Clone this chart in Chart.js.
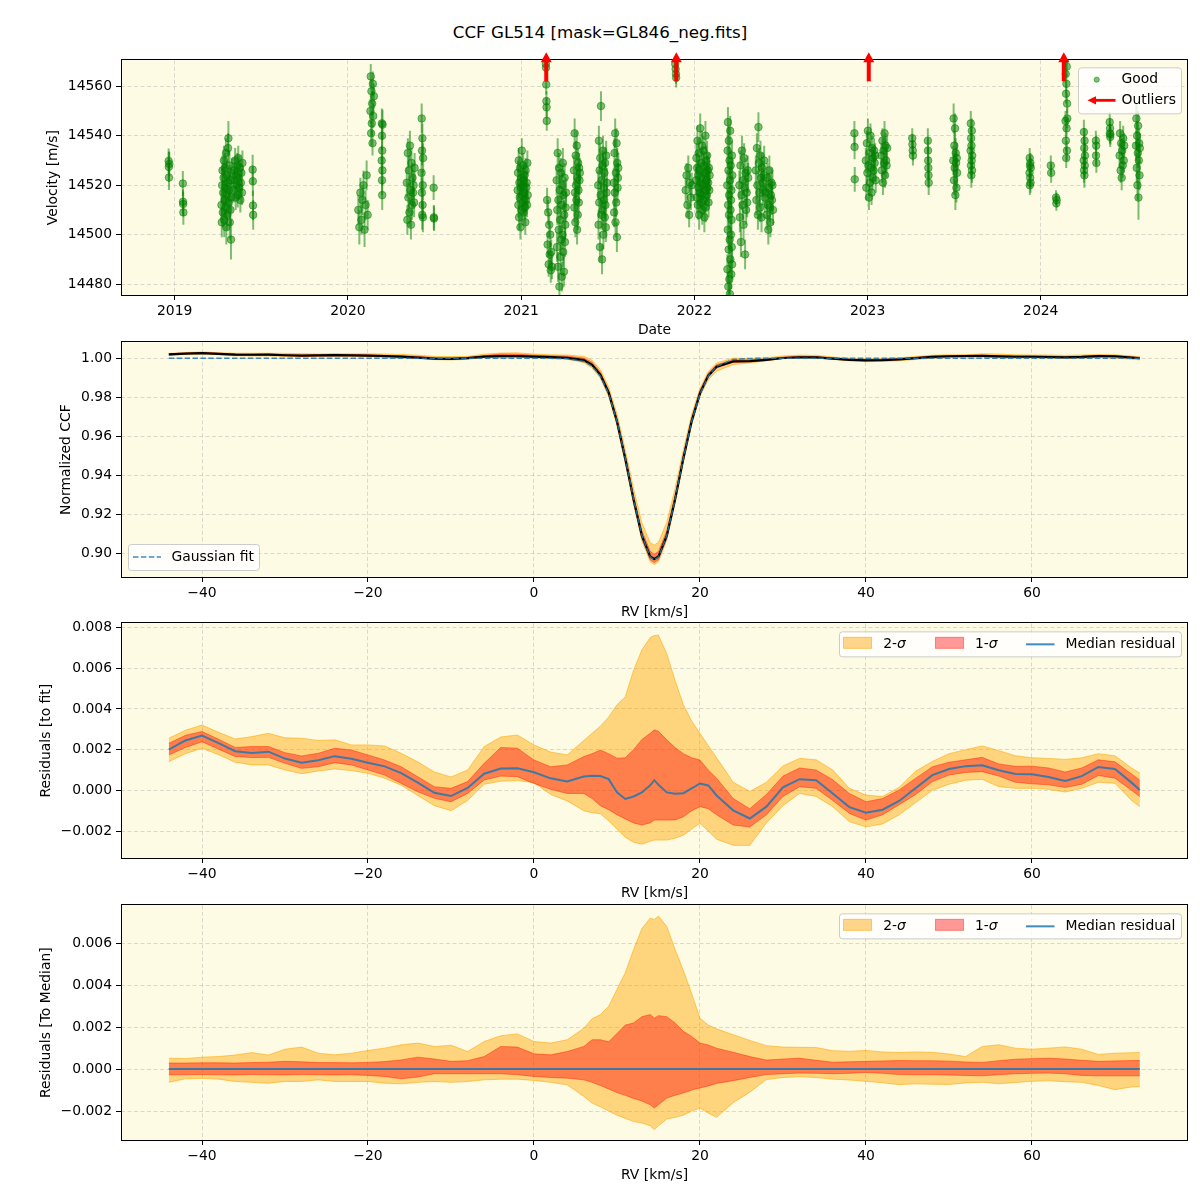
<!DOCTYPE html>
<html>
<head>
<meta charset="utf-8">
<title>CCF GL514</title>
<script src="https://cdn.jsdelivr.net/npm/chart.js@4.4.1/dist/chart.umd.min.js"></script>
<style>
html,body{margin:0;padding:0;background:#fff}
body{width:1200px;height:1200px;position:relative;overflow:hidden}
#title{position:absolute;left:0;top:22px;width:1200px;text-align:center;font-family:"DejaVu Sans",sans-serif;font-size:16.7px;line-height:20px;color:#000}
canvas{position:absolute;left:0}
</style>
</head>
<body>
<div id="title">CCF GL514 [mask=GL846_neg.fits]</div>
<canvas id="c1" width="1200" height="292" style="top:48px"></canvas>
<canvas id="c2" width="1200" height="292" style="top:330px"></canvas>
<canvas id="c3" width="1200" height="292" style="top:611px"></canvas>
<canvas id="c4" width="1200" height="292" style="top:893px"></canvas>
<script>
// ---------------- Panel 1: velocities ----------------
const goodT = [
2018.965,2018.966,2018.967,2018.969,
2019.047,2019.048,2019.049,2019.050,
2019.270,2019.272,2019.274,2019.276,2019.278,2019.280,2019.282,2019.284,2019.286,2019.288,2019.290,2019.292,2019.294,2019.296,2019.298,2019.300,2019.302,2019.304,2019.306,2019.308,2019.310,2019.312,2019.314,2019.316,2019.318,2019.320,2019.322,2019.325,2019.327,2019.330,
2019.340,2019.343,2019.346,2019.349,2019.352,2019.355,2019.358,2019.361,2019.364,2019.367,2019.370,2019.373,2019.376,2019.379,2019.382,2019.385,2019.388,2019.391,
2019.450,2019.451,2019.452,2019.453,
2020.060,2020.066,2020.072,2020.078,2020.084,2020.090,2020.096,2020.102,2020.108,2020.114,
2020.130,2020.132,2020.134,2020.136,2020.138,2020.140,2020.142,2020.144,2020.146,2020.150,
2020.195,2020.196,2020.197,2020.197,2020.198,2020.198,2020.199,2020.200,
2020.340,2020.343,2020.346,2020.349,2020.352,2020.355,2020.358,2020.361,2020.364,2020.367,2020.370,2020.373,2020.376,2020.379,2020.382,2020.385,
2020.425,2020.426,2020.427,2020.428,2020.429,2020.430,2020.431,2020.432,2020.433,2020.434,
2020.495,2020.496,2020.497,
2020.980,2020.982,2020.984,2020.986,2020.988,2020.990,2020.992,2020.994,2020.996,2020.998,2021.000,2021.002,2021.004,2021.006,2021.008,2021.010,2021.012,2021.014,2021.016,2021.018,2021.020,2021.022,2021.024,2021.026,2021.028,2021.030,2021.032,2021.034,2021.036,2021.038,
2021.143,2021.144,2021.145,2021.146,2021.147,2021.148,
2021.150,2021.153,2021.156,2021.159,2021.162,2021.165,2021.168,2021.171,2021.174,2021.178,
2021.205,2021.207,2021.209,2021.211,2021.213,2021.215,2021.217,2021.219,2021.221,2021.223,2021.225,2021.227,2021.229,2021.231,2021.233,2021.235,2021.237,2021.239,2021.241,2021.243,2021.245,2021.247,2021.249,2021.251,2021.253,2021.255,2021.257,2021.259,
2021.305,2021.307,2021.309,2021.311,2021.313,2021.315,2021.317,2021.319,2021.321,2021.323,2021.325,2021.327,2021.329,2021.331,2021.333,2021.335,2021.337,2021.339,
2021.445,2021.447,2021.449,2021.451,2021.453,2021.455,2021.457,2021.459,2021.461,2021.463,2021.465,2021.467,2021.469,2021.471,2021.473,2021.475,2021.477,2021.479,2021.481,2021.483,2021.485,2021.487,2021.489,2021.491,2021.493,2021.495,
2021.535,2021.537,2021.539,2021.541,2021.543,2021.545,2021.547,2021.549,2021.551,2021.553,2021.555,2021.557,2021.559,2021.561,
2021.890,2021.892,2021.894,2021.895,
2021.950,2021.955,2021.960,2021.965,2021.970,2021.975,2021.980,2021.985,
2022.010,2022.012,2022.014,2022.016,2022.018,2022.020,2022.022,2022.024,2022.026,2022.028,2022.030,2022.032,2022.034,2022.036,2022.038,2022.040,2022.042,2022.044,2022.046,2022.048,2022.050,2022.052,2022.054,2022.056,2022.058,2022.060,2022.062,2022.064,2022.066,2022.068,2022.070,2022.072,2022.074,2022.076,2022.078,2022.080,2022.082,2022.084,2022.086,2022.088,
2022.190,2022.191,2022.192,2022.193,2022.194,2022.195,2022.196,2022.197,2022.198,2022.199,2022.200,2022.201,2022.202,2022.203,2022.204,2022.205,2022.206,2022.207,2022.208,2022.209,2022.210,2022.211,2022.212,2022.213,2022.214,2022.215,2022.216,2022.217,2022.218,2022.219,
2022.260,2022.263,2022.266,2022.269,2022.272,2022.275,2022.278,2022.281,2022.284,2022.287,2022.290,2022.293,2022.296,2022.299,2022.302,2022.305,2022.308,2022.311,
2022.355,2022.358,2022.361,2022.364,2022.367,2022.370,2022.373,2022.376,2022.379,2022.382,2022.385,2022.388,2022.391,2022.394,2022.397,2022.400,2022.403,2022.406,
2022.415,2022.418,2022.421,2022.424,2022.427,2022.430,2022.433,2022.436,2022.439,2022.442,2022.445,2022.448,2022.451,2022.454,
2022.924,2022.925,2022.926,
2022.990,2022.993,2022.996,2022.999,2023.002,2023.005,2023.008,2023.011,2023.014,2023.017,2023.020,2023.023,2023.026,2023.029,2023.032,2023.035,2023.038,2023.041,2023.044,2023.047,
2023.080,2023.083,2023.086,2023.089,2023.092,2023.095,2023.098,2023.101,2023.104,2023.107,2023.110,2023.113,
2023.258,2023.259,2023.261,2023.262,
2023.348,2023.349,2023.350,2023.351,2023.352,2023.353,
2023.495,2023.497,2023.499,2023.501,2023.503,2023.505,2023.507,2023.509,2023.511,2023.513,2023.515,2023.517,
2023.595,2023.596,2023.597,2023.598,2023.599,2023.600,2023.601,2023.602,2023.603,2023.604,
2023.935,2023.936,2023.937,2023.938,2023.939,2023.940,2023.941,2023.942,
2024.058,2024.060,
2024.088,2024.090,2024.092,
2024.142,2024.143,2024.144,2024.145,2024.146,2024.147,2024.148,2024.149,2024.150,2024.151,2024.152,2024.153,
2024.248,2024.249,2024.250,2024.251,2024.252,2024.253,2024.254,2024.255,
2024.318,2024.319,2024.320,2024.321,
2024.398,2024.399,2024.400,2024.401,2024.402,
2024.455,2024.458,2024.461,2024.464,2024.467,2024.470,2024.473,2024.476,2024.479,2024.482,
2024.550,2024.552,2024.554,2024.556,2024.558,2024.560,2024.562,2024.564,2024.566,2024.568,2024.570,2024.572
];
const goodV = [
14529.8,14527.4,14523.1,14528.6,
14520.7,14513.3,14512.4,14509.0,
14512,14505,14520,14526,14509,14517,14523,14530,14506,14514,14527,14519,14511,14533,14503,14516,14524,14508,14521,14535,14539,14513,14518,14528,14505,14522,14510,14498,14515,14525,
14518,14526,14522,14530,14515,14524,14520,14528,14516,14531,14523,14519,14527,14514,14521,14525,14517,14529,
14526.3,14521.6,14511.8,14508,
14510,14503,14517,14506,14514,14520,14502,14512,14524,14508,
14550,14564,14541,14558,14545,14553,14537,14561,14548,14556,
14530,14545,14522,14540,14516,14534,14526,14544.5,
14521,14506,14533,14515,14526,14509,14536,14518,14504,14529,14512,14523,14517,14520,14513,14527,
14525,14547,14517,14534,14508,14539,14512,14520,14507,14531,
14519,14507,14506.5,
14518,14525,14512,14530,14507,14521,14515,14527,14503,14519,14523,14510,14534,14516,14520,14513,14528,14509,14522,14517,14524,14511,14505,14526,14514,14519,14521,14512,14529,14516,
14569,14567.5,14560.7,14554,14551.5,14546,
14514,14496,14509,14488,14504,14492,14500,14485.6,14493,14487,
14522,14495,14510,14533,14487,14514,14502,14527,14479,14518,14506,14491,14525,14498,14512,14483,14520,14500,14529,14493,14516,14485,14508,14523,14497,14504,14511,14517,
14526,14511,14541,14517,14505,14532,14520,14514,14536,14502,14523,14508,14529,14518,14513,14527,14522,14525,
14520,14504,14538,14513,14526,14495,14531,14516,14552,14508,14522,14490,14528,14510,14534,14500,14519,14514,14525,14507,14529,14512,14503,14532,14517,14521,
14521,14509,14533,14517,14541,14505,14525,14513,14537,14499,14529,14519,14523,14527,
14569,14567,14565,14563.5,
14518,14524,14512,14527,14508,14521,14515,14520,
14522,14531,14515,14527,14538,14512,14524,14519,14533,14508,14526,14517,14543,14521,14513,14529,14516,14536,14510,14523,14520,14534,14514,14528,14507,14525,14518,14540,14511,14530,14522,14516,14532,14519,14526,14521,14513,14527,14518,14524,
14520,14486,14534,14502,14545.5,14512,14479,14526,14494,14538,14508,14516,14482,14530,14498,14476,14522,14542,14490,14510,14528,14500,14514,14484,14518,14506,14495,14532,14488,14524,
14520,14507,14528,14497,14516,14534,14512,14522,14504,14531,14519,14492,14525,14510,14517,14513,14526,14523,
14526,14514,14535,14520,14508,14543.5,14529,14517,14511,14532,14523,14507,14527,14521,14518,14524,14530,14515,
14517,14508,14523,14512,14502,14519,14526,14511,14505,14516,14521,14514,14520,14510,
14541,14535.5,14522.4,
14530,14519,14537,14525,14542,14528,14515,14533,14521,14540,14527,14517,14535,14523,14531,14526,14534,14529,14532,14522,
14532,14526,14538,14521,14534,14529,14541,14524,14536,14530,14528,14535,
14539,14536.5,14534,14532,
14538,14534,14530,14527,14524,14521,
14530,14547,14522,14536,14527,14543,14516,14533,14529,14519,14531,14525,
14534,14545,14528,14539,14524,14536,14530,14542,14526,14532,
14525,14531,14520,14528,14523,14529,14521,14527,
14528,14525,
14515,14512.7,14514,
14571,14546,14565,14538,14557,14531,14561,14543,14568,14534,14553,14547,
14530,14541.5,14526,14535,14524,14538,14528,14532,
14538,14532,14536,14529,
14545.5,14541,14543,14539.5,14540.5,
14532,14541,14526,14537,14523,14534,14528,14539,14530,14536,
14536,14547,14527,14540,14520,14533,14544,14515,14530,14537,14524,14535
];
const goodE = [
5,6,5,5,
5,5,5,5,
6,6,7,6,6,5,6,6,7,6,6,6,5,6,7,6,6,6,6,6,7,6,6,6,7,6,6,8,6,6,
5,5,5,5,5,5,5,5,5,5,5,5,5,5,5,5,5,5,
6,6,6,6,
6,7,6,6,6,6,7,6,6,6,
5,5,5,5,5,5,5,5,5,5,
6,6,6,6,6,6,6,6,
6,6,6,6,6,6,6,6,6,6,6,6,6,6,6,6,
8,6,6,6,6,6,6,6,6,6,
5,5,5,
5,5,5,5,5,5,5,5,5,5,5,5,5,5,5,5,5,5,5,5,5,5,5,5,5,5,5,5,5,5,
4,4,4,4,4,4,
5,5,5,5,5,5,5,5,5,5,
6,6,6,6,6,6,6,6,6,6,6,6,6,6,6,6,6,6,6,6,6,6,6,6,6,6,6,6,
6,6,6,6,6,6,6,6,6,6,6,6,6,6,6,6,6,6,
6,6,6,6,6,6,6,6,6,6,6,6,6,6,6,6,6,6,6,6,6,6,6,6,6,6,
6,6,6,6,6,6,6,6,6,6,6,6,6,6,
4,4,4,4,
5,5,5,5,5,5,5,5,
6,6,6,6,6,6,6,6,6,6,6,6,6,6,6,6,6,6,6,6,6,6,6,6,6,6,6,6,6,6,6,6,6,6,6,6,6,6,6,6,
6,6,6,6,6,6,6,6,6,6,6,6,6,6,6,6,6,6,6,6,6,6,6,6,6,6,6,6,6,6,
6,6,6,6,6,6,6,6,6,6,6,6,6,6,6,6,6,6,
6,6,6,6,6,6,6,6,6,6,6,6,6,6,6,6,6,6,
6,6,6,6,6,6,6,6,6,6,6,6,6,6,
5,5,5,
5,5,5,5,5,5,5,5,5,5,5,5,5,5,5,5,5,5,5,5,
5,5,5,5,5,5,5,5,5,5,5,5,
4,4,4,4,
5,5,5,5,5,5,
6,6,6,6,6,6,6,6,6,6,6,6,
5,5,5,5,5,5,5,5,5,5,
4,4,4,4,4,4,4,4,
4,4,
3,3,3,
4,4,4,4,4,4,4,4,4,4,4,4,
5,5,5,5,5,5,5,5,
4,4,4,4,
4,4,4,4,4,
5,5,5,5,5,5,5,5,5,5,
6,6,6,6,6,6,6,9,6,6,6,6
];
const outlierT = [2021.145, 2021.896, 2023.007, 2024.133];
const p1XTicks = [2019, 2020, 2021, 2022, 2023, 2024];
const p1YTicks = [14480, 14500, 14520, 14540, 14560];

// ---------------- RV grid shared by panels 2-4 ----------------
const rv = [-44,-42,-40,-38,-36,-34,-32,-30,-28,-26,
-24,-22,-20,-18,-16,-14,-12,-10,-8,-6,
-4,-2,0,2,4,6,
7,8,9,10,11,12,13,14,
14.5,
15,16,17,18,19,20,21,22,
24,26,28,30,32,34,36,38,40,42,
44,46,48,50,52,54,56,58,60,62,
64,66,68,70,72,
73];
const rvTicks = [-40, -20, 0, 20, 40, 60];

// ---------------- Panel 2: CCF ----------------
const gaussFit = [1,1,1,1,1,1,1,1,1,1,
1,1,1,1,1,1,1,1,1,1,
1,1,1,0.99999,0.99982,0.99837,
0.99591,0.99086,0.98179,0.96767,0.94880,0.92773,0.90905,0.89798,
0.89650,
0.89798,0.90905,0.92773,0.94880,0.96767,0.98179,0.99086,0.99591,
0.99942,0.99995,1,1,1,1,1,1,1,1,
1,1,1,1,1,1,1,1,1,1,
1,1,1,1,1,
1];
const ccfMed = [1.0020,1.00245,1.00269,1.00232,1.00192,1.00184,1.0019,1.00156,1.00136,1.00148,
1.00168,1.00155,1.00136,1.00118,1.00085,1.00038,0.99988,0.99972,1.00012,1.00082,
1.00107,1.00108,1.00089,1.00058,1.00026,0.99905,
0.99663,0.99156,0.98234,0.96757,0.94838,0.92743,0.90895,0.89823,
0.8970,
0.89826,0.90895,0.92756,0.94866,0.96777,0.98213,0.9911,0.99566,
0.99844,0.99857,0.9992,1.00015,1.00055,1.0005,0.99985,0.99918,0.9989,0.99905,
0.99948,1.00012,1.00075,1.00105,1.00119,1.00123,1.00099,1.0008,1.00079,1.00066,
1.00046,1.0007,1.00115,1.00105,1.00038,
1.00002];
const ccfHi2 = [1.0025,1.0030,1.0033,1.0029,1.0026,1.0026,1.0026,1.0025,1.0024,1.0022,
1.0024,1.0023,1.0023,1.0022,1.0020,1.0016,1.0010,1.0009,1.0010,1.0021,
1.0027,1.0028,1.0022,1.0018,1.0017,1.0010,
0.9990,0.9942,0.9853,0.9714,0.9530,0.9330,0.9156,0.9054,
0.9041,
0.9056,0.9158,0.9332,0.9532,0.9712,0.9846,0.9932,0.9976,
1.0001,0.9999,1.0003,1.0012,1.0016,1.0015,1.0007,1.0000,0.9998,0.9999,
1.0003,1.0009,1.0016,1.0018,1.0018,1.0023,1.0022,1.0018,1.0017,1.0017,
1.0015,1.0017,1.0019,1.0018,1.0012,
1.0008];
const ccfLo2 = [1.0014,1.0020,1.0023,1.0018,1.0013,1.0012,1.0012,1.0010,1.0008,1.0010,
1.0011,1.0010,1.0008,1.0005,1.0002,0.9998,0.9993,0.9991,0.9995,1.0003,
1.0006,1.0006,1.0003,0.9999,0.9995,0.9978,
0.9950,0.9898,0.9803,0.9654,0.9460,0.9249,0.9064,0.8955,
0.8941,
0.8956,0.9066,0.9253,0.9465,0.9658,0.9803,0.9890,0.9934,
0.9968,0.9976,0.9987,0.9998,1.0002,1.0001,0.9994,0.9987,0.9983,0.9984,
0.9987,0.9994,1.0000,1.0003,1.0005,1.0006,1.0003,1.0002,1.0002,1.0001,
0.9999,1.0001,1.0004,1.0001,0.9995,
0.9992];
const ccfHi1 = [1.0023,1.0027,1.0030,1.0026,1.0022,1.0022,1.0022,1.0019,1.0017,1.0018,
1.0020,1.0019,1.0017,1.0015,1.0013,1.0010,1.0004,1.0001,1.0005,1.0014,
1.0022,1.0021,1.0016,1.0013,1.0011,1.0001,
0.9980,0.9930,0.9837,0.9693,0.9504,0.9296,0.9115,0.9009,
0.8994,
0.9008,0.9115,0.9298,0.9505,0.9693,0.9834,0.9923,0.9967,
0.9992,0.9992,0.9996,1.0006,1.0011,1.0009,1.0002,0.9995,0.9993,0.9994,
0.9999,1.0005,1.0012,1.0014,1.0015,1.0016,1.0014,1.0013,1.0013,1.0012,
1.0009,1.0011,1.0015,1.0014,1.0008,
1.0004];
const ccfLo1 = [1.0017,1.0022,1.0024,1.0021,1.0016,1.0016,1.0016,1.0013,1.0011,1.0012,
1.0014,1.0013,1.0011,1.0008,1.0004,1.0000,0.9997,0.9995,0.9999,1.0006,
1.0009,1.0008,1.0005,1.0002,0.9998,0.9985,
0.9960,0.9908,0.9814,0.9664,0.9471,0.9260,0.9074,0.8965,
0.8951,
0.8966,0.9076,0.9263,0.9475,0.9668,0.9812,0.9903,0.9950,
0.9979,0.9982,0.9989,0.9999,1.0004,1.0003,0.9996,0.9990,0.9987,0.9989,
0.9992,0.9998,1.0005,1.0008,1.0009,1.0009,1.0007,1.0006,1.0006,1.0005,
1.0002,1.0004,1.0008,1.0007,1.0001,
0.9997];
const p2YTicks = [0.90, 0.92, 0.94, 0.96, 0.98, 1.00];

// ---------------- Panel 3: residuals to fit ----------------
const resMed = [0.0020,0.00245,0.00269,0.00232,0.00192,0.00184,0.0019,0.00156,0.00136,0.00148,
0.00168,0.00155,0.00136,0.00118,0.00085,0.00038,-0.00012,-0.00028,0.00012,0.00082,
0.00107,0.00108,0.00089,0.00059,0.00044,0.00068,
0.00072,0.0007,0.00055,-0.0001,-0.00042,-0.0003,-0.0001,0.00025,
0.0005,
0.00028,-0.0001,-0.00017,-0.00014,0.0001,0.00034,0.00024,-0.00025,
-0.00098,-0.00138,-0.0008,0.00015,0.00055,0.0005,-0.00015,-0.00082,-0.0011,-0.00095,
-0.00052,0.00012,0.00075,0.00105,0.00119,0.00123,0.00099,0.0008,0.00079,0.00066,
0.00046,0.0007,0.00115,0.00105,0.00038,
0.00002];
const resHi2 = [0.00256,0.00295,0.00321,0.00285,0.00252,0.00264,0.0028,0.00258,0.00256,0.00245,
0.00248,0.00223,0.00223,0.00218,0.00182,0.0014,0.0009,0.00066,0.001,0.00215,
0.00262,0.00272,0.00223,0.00188,0.00174,0.00245,
0.0028,0.00315,0.0036,0.0042,0.0046,0.0059,0.0069,0.0075,
0.0076,
0.00762,0.0067,0.0054,0.0042,0.0034,0.0028,0.0022,0.0016,
0.0004,-0.00005,0.0004,0.0012,0.00157,0.0015,0.001,0.0001,-0.00023,-0.0003,
0.00015,0.00095,0.00142,0.0018,0.002,0.00218,0.00195,0.0017,0.0016,0.00157,
0.00152,0.0016,0.0018,0.0017,0.0011,
0.00085];
const resLo2 = [0.00141,0.0018,0.00207,0.00175,0.00138,0.00125,0.00125,0.001,0.00082,0.00095,
0.00105,0.00097,0.00084,0.0006,0.00025,-0.00025,-0.00075,-0.001,-0.0005,0.0003,
0.00045,0.00048,0.00038,-0.0002,-0.00052,-0.001,
-0.0011,-0.00115,-0.0015,-0.0019,-0.0023,-0.00255,-0.00264,-0.0025,
-0.00244,
-0.00244,-0.00244,-0.00235,-0.0022,-0.0019,-0.00162,-0.002,-0.0024,
-0.0027,-0.0027,-0.0016,-0.00075,-0.00015,-0.0003,-0.0008,-0.00154,-0.00179,-0.00165,
-0.0012,-0.0006,0.0,0.0003,0.0005,0.00054,0.00018,0.0001,0.0001,0.00005,
-0.00008,0.0001,0.0004,0.00035,-0.0005,
-0.0008];
const resHi1 = [0.00231,0.0027,0.00289,0.00251,0.00211,0.00215,0.00215,0.00185,0.00169,0.00182,
0.00207,0.00198,0.00174,0.00149,0.00116,0.00067,0.00018,0.0001,0.00043,0.00133,
0.00211,0.00207,0.00149,0.00116,0.00125,0.00166,
0.0018,0.00198,0.0018,0.00158,0.0016,0.002,0.0025,0.0028,
0.00297,
0.0029,0.00248,0.0021,0.0018,0.0016,0.00149,0.001,0.0006,
-0.0004,-0.0009,-0.0002,0.0007,0.0011,0.001,0.00052,-0.00015,-0.00056,-0.0004,
0.00002,0.0006,0.00116,0.00138,0.0015,0.00162,0.0013,0.00118,0.00119,0.0011,
0.0009,0.0011,0.0015,0.0014,0.0008,
0.0005];
const resLo1 = [0.00174,0.0021,0.00239,0.00202,0.00166,0.00161,0.00162,0.00133,0.00108,0.00116,
0.00136,0.00125,0.001,0.00075,0.00034,-0.00007,-0.00039,-0.00056,-0.00015,0.00051,
0.0007,0.00067,0.00034,0.00005,-0.00015,-0.00015,
-0.0004,-0.00075,-0.00095,-0.0012,-0.0014,-0.0016,-0.0017,-0.0016,
-0.00146,
-0.00146,-0.00146,-0.00145,-0.0013,-0.001,-0.0008,-0.0009,-0.0012,
-0.0017,-0.0018,-0.0012,-0.0003,0.00018,0.0001,-0.0005,-0.00113,-0.00146,-0.0012,
-0.0007,-0.0002,0.00043,0.00075,0.00088,0.00092,0.0007,0.0004,0.00032,0.00027,
0.00014,0.0003,0.00073,0.0006,0.0,
-0.00031];
const p3YTicks = [-0.002, 0, 0.002, 0.004, 0.006, 0.008];

// ---------------- Panel 4: residuals to median ----------------
const medZero = [0,0,0,0,0,0,0,0,0,0,
0,0,0,0,0,0,0,0,0,0,
0,0,0,0,0,0,
0,0,0,0,0,0,0,0,
0,
0,0,0,0,0,0,0,0,
0,0,0,0,0,0,0,0,0,0,
0,0,0,0,0,0,0,0,0,0,
0,0,0,0,0,
0];
const dHi2 = [0.00052,0.0005,0.00057,0.0006,0.00067,0.00079,0.00067,0.00095,0.00105,0.00076,
0.00068,0.00076,0.00089,0.001,0.00116,0.00124,0.00108,0.00114,0.00084,0.00132,
0.00159,0.00168,0.00132,0.00124,0.0014,0.00195,
0.0024,0.0026,0.003,0.0038,0.0046,0.0057,0.0067,0.0072,
0.00714,
0.0073,0.0068,0.0057,0.0047,0.0036,0.00243,0.0021,0.00192,
0.00164,0.00137,0.00112,0.00105,0.00104,0.00103,0.00088,0.00085,0.00089,0.00082,
0.00079,0.00082,0.0008,0.00072,0.0006,0.00108,0.00116,0.001,0.00095,0.001,
0.00106,0.00095,0.0007,0.00076,0.00078,
0.00079];
const dLo2 = [-0.00063,-0.00046,-0.00044,-0.00048,-0.00059,-0.00063,-0.00067,-0.00059,-0.00059,-0.00051,
-0.00059,-0.00059,-0.00059,-0.00067,-0.0007,-0.00063,-0.00059,-0.00063,-0.00059,-0.00051,
-0.00048,-0.00048,-0.00054,-0.00063,-0.00075,-0.0013,
-0.00162,-0.0018,-0.002,-0.0022,-0.00235,-0.0025,-0.00257,-0.0027,
-0.00289,
-0.0027,-0.00238,-0.0023,-0.0022,-0.002,-0.00186,-0.0021,-0.0023,
-0.0016,-0.0011,-0.0005,-0.0004,-0.00036,-0.0004,-0.00048,-0.00052,-0.00058,-0.00065,
-0.00074,-0.0007,-0.00072,-0.00073,-0.00066,-0.00063,-0.0007,-0.00064,-0.00058,-0.00056,
-0.0006,-0.00063,-0.00078,-0.00098,-0.00085,
-0.00083];
const dHi1 = [0.00029,0.00029,0.0003,0.0003,0.00029,0.00031,0.00033,0.00037,0.00035,0.00031,
0.00031,0.0003,0.00032,0.00036,0.00044,0.00057,0.00048,0.00037,0.0004,0.0006,
0.00108,0.00105,0.00073,0.00068,0.00084,0.00108,
0.0014,0.0014,0.0013,0.0017,0.0021,0.0022,0.0025,0.0026,
0.00243,
0.00255,0.0025,0.0022,0.0018,0.00156,0.00124,0.00115,0.001,
0.0008,0.0006,0.00043,0.00048,0.00052,0.00042,0.00033,0.00035,0.00037,0.00039,
0.00041,0.0004,0.0004,0.00038,0.00034,0.00032,0.0004,0.00047,0.0005,0.00052,
0.00048,0.00042,0.00037,0.00039,0.00041,
0.00041];
const dLo1 = [-0.00027,-0.00027,-0.00026,-0.00027,-0.00028,-0.00026,-0.00027,-0.00028,-0.00026,-0.00027,
-0.00028,-0.00027,-0.0003,-0.00035,-0.00046,-0.00038,-0.00022,-0.00022,-0.00022,-0.00022,
-0.00022,-0.00027,-0.00035,-0.0004,-0.00043,-0.00051,
-0.00063,-0.00078,-0.00095,-0.00112,-0.00125,-0.0014,-0.00152,-0.0017,
-0.00186,
-0.0017,-0.00138,-0.00125,-0.00114,-0.001,-0.0009,-0.0008,-0.00068,
-0.00055,-0.0004,-0.00026,-0.00022,-0.00019,-0.0002,-0.00022,-0.0002,-0.00016,-0.0002,
-0.00026,-0.00027,-0.00027,-0.00028,-0.0003,-0.00032,-0.00027,-0.00022,-0.0002,-0.00019,
-0.00022,-0.0003,-0.00032,-0.00032,-0.00032,
-0.00032];
const p4YTicks = [-0.002, 0, 0.002, 0.004, 0.006];

// ---------------- Styling & helpers ----------------
const FONT_SIZE = 13.9;
const FONT = FONT_SIZE + 'px "DejaVu Sans", sans-serif';
Chart.defaults.font.family = '"DejaVu Sans", sans-serif';
Chart.defaults.font.size = FONT_SIZE;
Chart.defaults.color = '#000';

const BG = '#fdfbe3';
const GRID = 'rgba(176,176,176,0.6)';
const GREEN = 'rgba(0,128,0,0.5)';
const OR_F = 'rgba(255,165,0,0.45)';
const OR_E = 'rgba(255,165,0,0.55)';
const RD_F = 'rgba(255,0,0,0.4)';
const RD_E = 'rgba(255,30,0,0.45)';
const BLUE = 'rgba(31,119,180,0.85)';

const pts = (xs, ys) => xs.map((x, i) => ({x: x, y: ys[i]}));
const mfmt = d => v => (v < -1e-12 ? '\u2212' : '') + Math.abs(v).toFixed(d);

function axis(o) {
  const left = o.pos === 'left';
  return {
    type: 'linear', position: o.pos, min: o.min, max: o.max, bounds: 'data', z: o.z || 0,
    afterBuildTicks(s) { s.ticks = o.ticks.map(v => ({value: v})); },
    afterFit(s) { if (left) s.width = 121; else s.height = 45; },
    ticks: { autoSkip: false, maxRotation: 0, minRotation: 0, padding: left ? 4 : 3, color: '#000', callback: o.fmt },
    grid: { color: GRID, lineWidth: 0.8, drawTicks: true, tickLength: 5, tickColor: '#000', tickWidth: 1, tickBorderDash: [] },
    border: { display: false, dash: [4, 2.5] },
    title: { display: true, text: o.title, color: '#000',
      padding: left ? {top: o.tp, bottom: 0} : {top: 0, bottom: 1.7} }
  };
}

const framePlugin = {
  id: 'frame',
  beforeDraw(chart) {
    const {ctx, chartArea: a} = chart;
    ctx.save(); ctx.fillStyle = BG; ctx.fillRect(a.left, a.top, a.right - a.left, a.bottom - a.top); ctx.restore();
  },
  afterDraw(chart) {
    const {ctx, chartArea: a} = chart;
    ctx.save(); ctx.strokeStyle = '#000'; ctx.lineWidth = 1;
    ctx.strokeRect(Math.round(a.left) + 0.5, Math.round(a.top) - 0.5, Math.round(a.right - a.left) - 1, Math.round(a.bottom - a.top) + 1);
    ctx.restore();
  }
};

function legendBox(ctx, x, y, w, h) {
  ctx.save();
  ctx.fillStyle = 'rgba(255,255,255,0.8)'; ctx.strokeStyle = '#cccccc'; ctx.lineWidth = 1;
  ctx.beginPath();
  if (ctx.roundRect) ctx.roundRect(x + 0.5, y + 0.5, w, h, 3); else ctx.rect(x + 0.5, y + 0.5, w, h);
  ctx.fill(); ctx.stroke(); ctx.restore();
}
function text(ctx, s, x, y, italic) {
  ctx.save(); ctx.font = (italic ? 'italic ' : '') + FONT; ctx.fillStyle = '#000';
  ctx.textBaseline = 'middle'; ctx.textAlign = 'left'; ctx.fillText(s, x, y);
  const w = ctx.measureText(s).width; ctx.restore(); return w;
}
function sigmaText(ctx, n, x, y) { const w = text(ctx, n + '-', x, y, false); text(ctx, '\u03c3', x + w, y, true); }

// Error bars, outlier arrows and legend for panel 1
const p1Plugin = {
  id: 'p1extra',
  beforeDatasetsDraw(chart) {
    const {ctx, chartArea: a, scales: {x, y}} = chart;
    ctx.save(); ctx.beginPath(); ctx.rect(a.left, a.top, a.right - a.left, a.bottom - a.top); ctx.clip();
    ctx.strokeStyle = GREEN; ctx.lineWidth = 2;
    for (let i = 0; i < goodT.length; i++) {
      const px = x.getPixelForValue(goodT[i]);
      ctx.beginPath();
      ctx.moveTo(px, y.getPixelForValue(goodV[i] - goodE[i]));
      ctx.lineTo(px, y.getPixelForValue(goodV[i] + goodE[i]));
      ctx.stroke();
    }
    ctx.restore();
  },
  afterDraw(chart) {
    const {ctx, chartArea: a, scales: {x}} = chart;
    ctx.save(); ctx.fillStyle = 'red';
    for (const t of outlierT) {
      const px = x.getPixelForValue(t);
      const tail = a.top + 21, tip = a.top - 8, base = tip + 10;
      ctx.fillRect(px - 2, base - 0.5, 4, tail - base + 0.5);
      ctx.beginPath(); ctx.moveTo(px, tip); ctx.lineTo(px - 5.5, base); ctx.lineTo(px + 5.5, base); ctx.closePath(); ctx.fill();
    }
    ctx.restore();
    // legend
    const bw = 103, bh = 46, bx = a.right - 7 - bw, by = a.top + 7;
    legendBox(ctx, bx, by, bw, bh);
    ctx.save();
    ctx.fillStyle = GREEN; ctx.strokeStyle = GREEN; ctx.lineWidth = 1;
    ctx.beginPath(); ctx.arc(bx + 18.7, by + 12.3, 2.6, 0, Math.PI * 2); ctx.fill(); ctx.stroke();
    ctx.fillStyle = 'red';
    const ay = by + 33, ax0 = bx + 9.5, ax1 = bx + 37.5;
    ctx.fillRect(ax0 + 8, ay - 1.4, ax1 - ax0 - 8, 2.8);
    ctx.beginPath(); ctx.moveTo(ax0, ay); ctx.lineTo(ax0 + 8.5, ay - 4.2); ctx.lineTo(ax0 + 8.5, ay + 4.2); ctx.closePath(); ctx.fill();
    ctx.restore();
    text(ctx, 'Good', bx + 43.5, by + 12.5);
    text(ctx, 'Outliers', bx + 43.5, by + 33.5);
  }
};

const p2Legend = {
  id: 'p2legend',
  afterDraw(chart) {
    const {ctx, chartArea: a} = chart;
    const bw = 131, bh = 26, bx = a.left + 7, by = a.bottom - 7 - bh;
    legendBox(ctx, bx, by, bw, bh);
    ctx.save(); ctx.strokeStyle = BLUE; ctx.lineWidth = 1.5; ctx.setLineDash([5.5, 2.4]);
    ctx.beginPath(); ctx.moveTo(bx + 5, by + 13); ctx.lineTo(bx + 33, by + 13); ctx.stroke(); ctx.restore();
    text(ctx, 'Gaussian fit', bx + 43.5, by + 13);
  }
};

const resLegend = {
  id: 'reslegend',
  afterDraw(chart) {
    const {ctx, chartArea: a} = chart;
    const bw = 342, bh = 25, bx = a.right - 7 - bw, by = a.top + 8;
    legendBox(ctx, bx, by, bw, bh);
    const cy = by + 13;
    ctx.save(); ctx.lineWidth = 1;
    ctx.fillStyle = OR_F; ctx.strokeStyle = OR_E;
    ctx.fillRect(bx + 4.5, by + 6, 28, 11); ctx.strokeRect(bx + 4.5, by + 6, 28, 11);
    ctx.fillStyle = RD_F; ctx.strokeStyle = RD_E;
    ctx.fillRect(bx + 96.5, by + 6, 28, 11); ctx.strokeRect(bx + 96.5, by + 6, 28, 11);
    ctx.strokeStyle = BLUE; ctx.lineWidth = 2;
    ctx.beginPath(); ctx.moveTo(bx + 187, cy); ctx.lineTo(bx + 215.5, cy); ctx.stroke();
    ctx.restore();
    sigmaText(ctx, '2', bx + 44.2, cy);
    sigmaText(ctx, '1', bx + 136, cy);
    text(ctx, 'Median residual', bx + 226.4, cy);
  }
};

function bands(hi1, lo1, hi2, lo2) {
  const base = {pointRadius: 0, pointHoverRadius: 0, tension: 0, borderWidth: 1};
  return [
    Object.assign({}, base, {data: pts(rv, hi1), borderColor: RD_E, backgroundColor: RD_F, fill: '+1'}),
    Object.assign({}, base, {data: pts(rv, lo1), borderColor: RD_E, fill: false}),
    Object.assign({}, base, {data: pts(rv, hi2), borderColor: OR_E, backgroundColor: OR_F, fill: '+1'}),
    Object.assign({}, base, {data: pts(rv, lo2), borderColor: OR_E, fill: false})
  ];
}

const common = {
  responsive: false, animation: false, events: [],
  layout: {padding: {top: 12, right: 12, left: 0, bottom: 0}},
  plugins: {legend: {display: false}, tooltip: {enabled: false}}
};

// Panel 1
new Chart(document.getElementById('c1'), {
  type: 'scatter',
  data: {datasets: [{data: pts(goodT, goodV), pointRadius: 3.8, pointHoverRadius: 3.8,
    backgroundColor: GREEN, borderColor: GREEN, borderWidth: 1}]},
  options: Object.assign({}, common, {scales: {
    x: axis({pos: 'bottom', min: 2018.69, max: 2024.85, ticks: p1XTicks, fmt: v => String(v), title: 'Date'}),
    y: axis({pos: 'left', min: 14475.6, max: 14570.5, ticks: p1YTicks, fmt: v => String(v), title: 'Velocity [m/s]', tp: 44.7})
  }}),
  plugins: [framePlugin, p1Plugin]
});

// Panel 2
new Chart(document.getElementById('c2'), {
  type: 'line',
  data: {datasets: [
    {data: pts(rv, gaussFit), borderColor: BLUE, borderWidth: 1.5, borderDash: [5.5, 2.4], pointRadius: 0, tension: 0, fill: false},
    {data: pts(rv, ccfMed), borderColor: '#000', borderWidth: 2.2, pointRadius: 0, tension: 0, fill: false}
  ].concat(bands(ccfHi1, ccfLo1, ccfHi2, ccfLo2))},
  options: Object.assign({}, common, {scales: {
    x: axis({pos: 'bottom', min: -49.76, max: 78.8, ticks: rvTicks, fmt: mfmt(0), title: 'RV [km/s]'}),
    y: axis({pos: 'left', min: 0.8877, max: 1.0082, ticks: p2YTicks, fmt: mfmt(2), title: 'Normalized CCF', tp: 57.7})
  }}),
  plugins: [framePlugin, p2Legend]
});

// Panel 3
new Chart(document.getElementById('c3'), {
  type: 'line',
  data: {datasets: [
    {data: pts(rv, resMed), borderColor: BLUE, borderWidth: 2, pointRadius: 0, tension: 0, fill: false}
  ].concat(bands(resHi1, resLo1, resHi2, resLo2))},
  options: Object.assign({}, common, {scales: {
    x: axis({pos: 'bottom', min: -49.76, max: 78.8, ticks: rvTicks, fmt: mfmt(0), title: 'RV [km/s]', z: 1}),
    y: axis({pos: 'left', min: -0.00332, max: 0.0082, ticks: p3YTicks, fmt: mfmt(3), title: 'Residuals [to fit]', tp: 37.7, z: 1})
  }}),
  plugins: [framePlugin, resLegend]
});

// Panel 4
new Chart(document.getElementById('c4'), {
  type: 'line',
  data: {datasets: [
    {data: pts(rv, medZero), borderColor: BLUE, borderWidth: 2, pointRadius: 0, tension: 0, fill: false}
  ].concat(bands(dHi1, dLo1, dHi2, dLo2))},
  options: Object.assign({}, common, {scales: {
    x: axis({pos: 'bottom', min: -49.76, max: 78.8, ticks: rvTicks, fmt: mfmt(0), title: 'RV [km/s]', z: 1}),
    y: axis({pos: 'left', min: -0.00338, max: 0.00781, ticks: p4YTicks, fmt: mfmt(3), title: 'Residuals [To Median]', tp: 37.7, z: 1})
  }}),
  plugins: [framePlugin, resLegend]
});
</script>
</body>
</html>
